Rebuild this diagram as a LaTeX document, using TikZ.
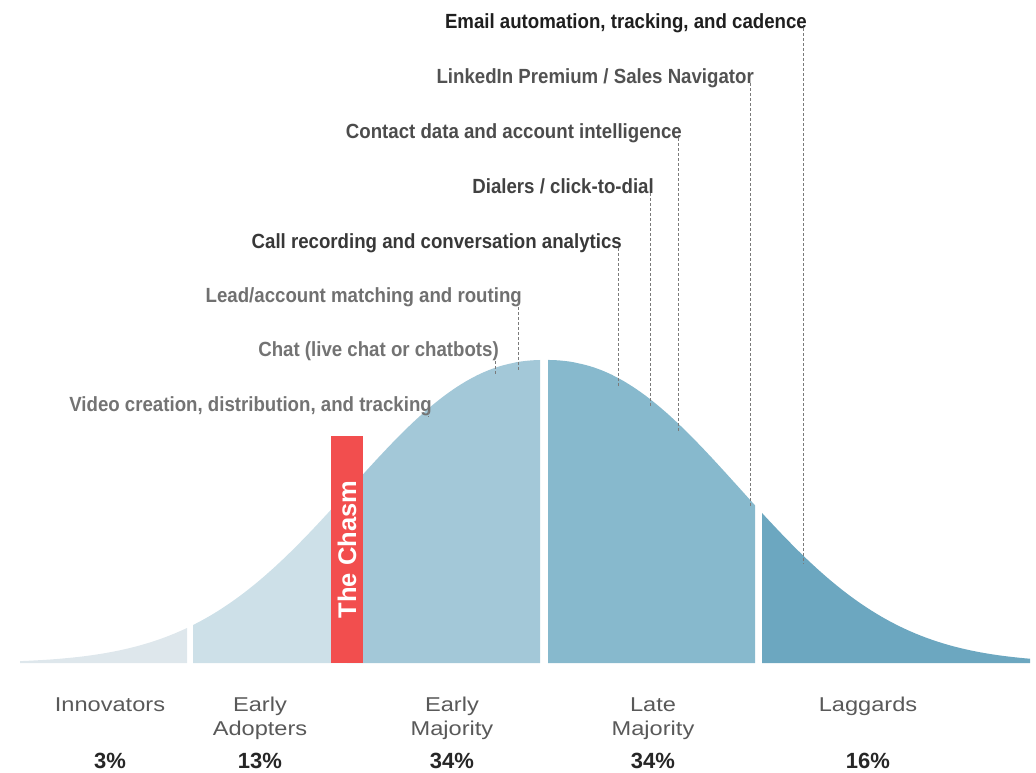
\documentclass[tikz,border=0pt]{standalone}
\usepackage{fontspec}
\setmainfont{Liberation Sans}
\newfontfamily\condfont[FakeStretch=0.91]{Liberation Sans}
\newfontfamily\widefont[FakeStretch=1.18]{Liberation Sans}
\usetikzlibrary{calc}
\definecolor{innov}{HTML}{DEE7EC}
\definecolor{adopt}{HTML}{CDE0E8}
\definecolor{early}{HTML}{A3C8D8}
\definecolor{late}{HTML}{87B9CD}
\definecolor{lagg}{HTML}{6CA7C0}
\definecolor{chasmred}{HTML}{F24E4E}
\definecolor{inkgrey}{HTML}{595959}
\definecolor{inkdash}{HTML}{7A7A7A}

\begin{document}
\begin{tikzpicture}[x=1pt, y=-1pt,
  declare function={bell(\t)=663-303*exp(-((abs(\t-545)+0.01)/254)^2.24);},
  toollab/.style={anchor=base east, inner sep=0pt,
    font=\condfont\bfseries\fontsize{20.5}{24}\selectfont},
  guide/.style={inkdash, line width=0.7pt, dash pattern=on 3pt off 2pt},
  grouplab/.style={anchor=base, inner sep=0pt, align=center, text=inkgrey,
    font=\widefont\fontsize{20}{24}\selectfont},
  share/.style={anchor=base, inner sep=0pt, text=black!85,
    font=\bfseries\fontsize{22}{24}\selectfont}]
  \useasboundingbox (0,0) rectangle (1036,772);
  \foreach \a/\b/\c in {20/187/innov, 193/347/adopt, 347/540/early,
                        548/755/late, 762/1030/lagg}{%
    \fill[\c] (\a,663) -- plot[domain=\a:\b, samples=50] (\x,{bell(\x)})
      -- (\b,663) -- cycle;}
  \node[fill=chasmred, rotate=90, minimum width=227pt, minimum height=32pt,
    inner sep=0pt, text=white, font=\bfseries\fontsize{25.5}{26}\selectfont]
    (chasm) at (347,549.5) {The Chasm};
  \foreach \n/\lx/\by/\col/\txt in {%
      email/803/28/black!88/{Email automation, tracking, and cadence},
      linkedin/750/83/black!68/{LinkedIn Premium / Sales Navigator},
      contact/678/138/black!70/{Contact data and account intelligence},
      dialers/650/193/black!74/{Dialers / click-to-dial},
      callrec/618/248/black!78/{Call recording and conversation analytics},
      leadroute/518/302/black!56/{Lead/account matching and routing},
      chat/495/356/black!55/{Chat (live chat or chatbots)},
      video/428/411/black!55/{Video creation, distribution, and tracking}}{%
    \node[toollab, text=\col] (\n) at (\lx+4,\by) {\txt};
    \coordinate (c\n) at (\lx,{bell(\lx)+8});
    \draw[guide] (\n.base east -| c\n) -- (c\n);}
  \foreach \n/\cx/\by/\lab/\pc in {innovators/110/711/Innovators/3,
      adopters/260/735/{Early\\Adopters}/13, earlymaj/452/735/{Early\\Majority}/34,
      latemaj/653/735/{Late\\Majority}/34, laggards/868/711/Laggards/16}{%
    \node[grouplab] (\n) at (\cx,\by) {\lab};
    \node[share] (\n-pc) at (\cx,768) {\pc\%};}
\end{tikzpicture}
\end{document}
